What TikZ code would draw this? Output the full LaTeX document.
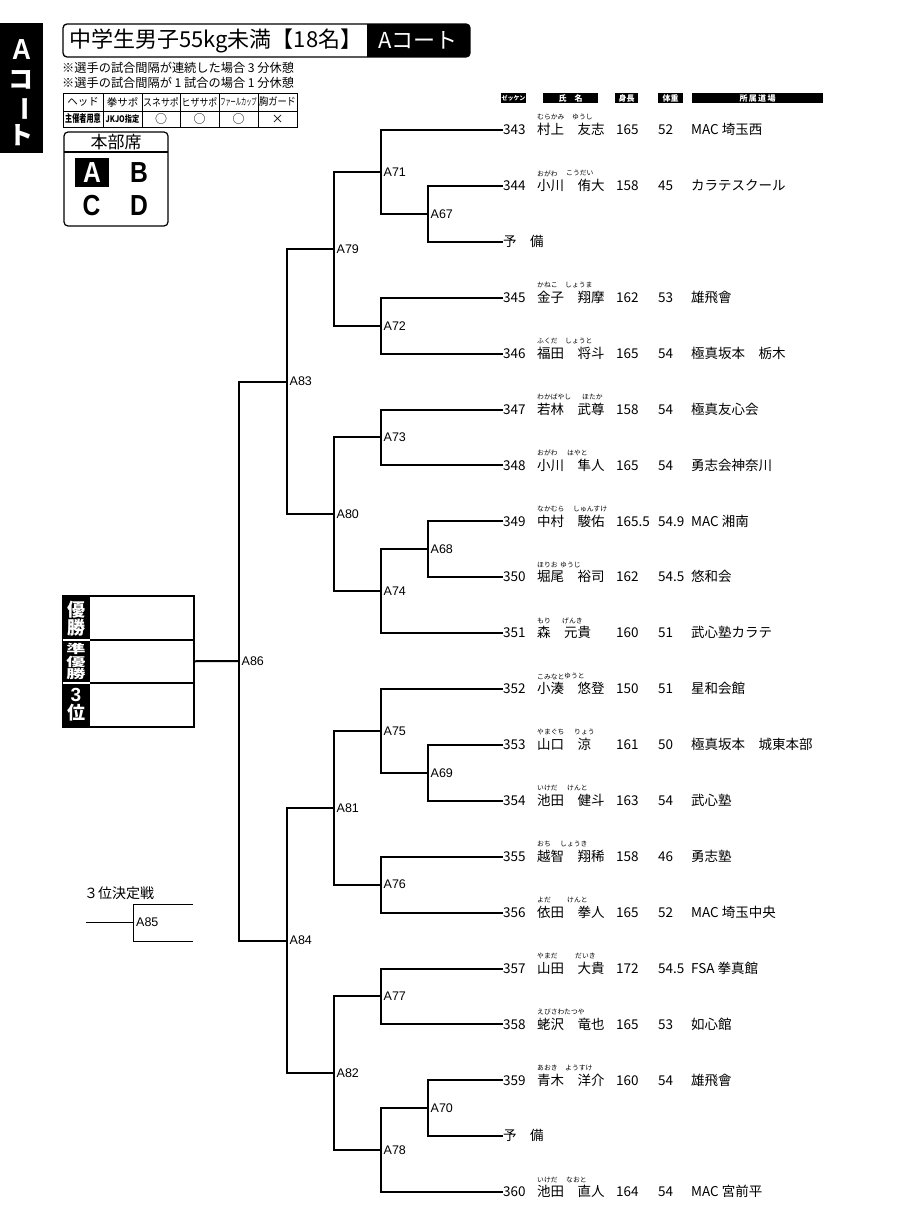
\documentclass[tikz,border=0pt]{standalone}
\usepackage{fontspec}
\usepackage{graphicx}
\setmainfont{Noto Sans CJK JP}
\newfontfamily\lat{Liberation Sans}
\tikzset{
  br/.style={line width=2pt, line join=miter},
  thinln/.style={line width=0.9pt},
  mlab/.style={anchor=west, inner sep=0pt, xshift=2.5pt, font=\lat\fontsize{12.5}{13}\selectfont},
  rowtxt/.style={anchor=west, inner sep=0pt, text height=9.4pt, text depth=0pt, font=\fontsize{13.5}{14}\selectfont},
  furi/.style={anchor=west, inner sep=0pt, font=\fontsize{6.8}{7}\selectfont},
  hdr/.style={fill=black, text=white, inner sep=0pt, minimum height=10pt, font=\bfseries\fontsize{8}{8}\selectfont},
  tcell/.style={inner sep=0pt, font=\fontsize{10.5}{10.5}\selectfont},
  wlab/.style={text=white, inner sep=0pt, font=\bfseries\fontsize{18}{18}\selectfont},
  big/.style={inner sep=0pt, font=\lat\bfseries\fontsize{29}{29}\selectfont}
}
\begin{document}
\begin{tikzpicture}[x=1pt,y=-1pt]
\useasboundingbox (0,0) rectangle (900,1225);

% side tab
\node[fill=black, minimum width=43pt, minimum height=130pt, inner sep=0pt, anchor=north west] (tab) at (0,23) {};
\node[big, text=white] (tabA) at (21.5,50) {\scalebox{0.9}[1]{A}};
\node[inner sep=0pt, text=white, font=\bfseries\fontsize{25}{25}\selectfont] (tabB) at (21.5,80) {コ};
\node[inner sep=0pt, text=white, rotate=-90, font=\bfseries\fontsize{25}{25}\selectfont] (tabC) at (21.5,109) {ー};
\node[inner sep=0pt, text=white, font=\bfseries\fontsize{25}{25}\selectfont] (tabD) at (21.5,135) {ト};

% title
\begin{scope}
\clip[rounded corners=4pt] (63,24) rectangle (470,57);
\fill (367,24) rectangle (470,57);
\end{scope}
\draw[line width=1.3pt, rounded corners=4pt] (63,24) rectangle (470,57);
\node[anchor=west, inner sep=0pt, font=\fontsize{22}{22}\selectfont] (title) at (69,40.5) {中学生男子55kg未満【18名】};
\node[inner sep=0pt, text=white, font=\fontsize{22}{22}\selectfont] (court) at (418,40.5) {Aコート};

% notes
\node[anchor=west, inner sep=0pt, font=\fontsize{12.2}{12}\selectfont] (note1) at (62,68) {※選手の試合間隔が連続した場合 3 分休憩};
\node[anchor=west, inner sep=0pt, font=\fontsize{12.2}{12}\selectfont] (note2) at (62,83) {※選手の試合間隔が 1 試合の場合 1 分休憩};

% equipment table
\draw[thinln] (63,93) rectangle (297,127);
\draw[thinln] (63,111) -- (297,111);
\foreach \cx in {103,142,180,219,258} \draw[thinln] (\cx,93) -- (\cx,127);
\node[tcell] (t1) at (83,102) {ヘッド};
\node[tcell] (t2) at (122.5,102) {拳サポ};
\node[tcell] (t3) at (161,102) {\scalebox{0.85}[1]{スネサポ}};
\node[tcell] (t4) at (199.5,102) {\scalebox{0.85}[1]{ヒザサポ}};
\node[tcell] (t5) at (238.5,102) {\scalebox{0.55}[1]{\fontsize{9.5}{9}\selectfont ファールカップ}};
\node[tcell] (t6) at (277.5,102) {\scalebox{0.88}[1]{胸ガード}};
\node[tcell] (u1) at (83,119) {\scalebox{0.68}[1]{\bfseries 主催者用意}};
\node[tcell] (u2) at (122.5,119) {\scalebox{0.8}[1]{\bfseries\fontsize{9}{9}\selectfont JKJO指定}};
\node[tcell, font=\fontsize{12}{12}\selectfont] (u3) at (161,119) {○};
\node[tcell, font=\fontsize{12}{12}\selectfont] (u4) at (199.5,119) {○};
\node[tcell, font=\fontsize{12}{12}\selectfont] (u5) at (238.5,119) {○};
\node[tcell, font=\fontsize{12}{12}\selectfont] (u6) at (277.5,119) {×};

% honbu box
\draw[line width=1.2pt, rounded corners=4pt] (64,132) rectangle (168,226);
\draw[line width=1.2pt] (64,152) -- (168,152);
\node[inner sep=0pt, font=\fontsize{17}{17}\selectfont] (honbu) at (116,142.5) {本部席};
\node[fill=black, minimum width=34pt, minimum height=29pt, inner sep=0pt] (selA) at (92,172.5) {};
\node[big, text=white] (lA) at (92,172.5) {\scalebox{0.85}[1]{A}};
\node[big] (lB) at (139,173) {\scalebox{0.85}[1]{B}};
\node[big] (lC) at (91.5,206) {\scalebox{0.85}[1]{C}};
\node[big] (lD) at (139,206) {\scalebox{0.85}[1]{D}};

% column headers
\node[hdr, minimum width=25pt, font=\bfseries\fontsize{6}{6}\selectfont] (hz) at (513.5,98) {ゼッケン};
\node[hdr, minimum width=55pt] (hn) at (570.5,98) {氏　名};
\node[hdr, minimum width=23pt] (hh) at (626.5,98) {身長};
\node[hdr, minimum width=25pt] (hw) at (670.5,98) {体重};
\node[hdr, minimum width=131pt] (hd) at (757.5,98) {所\,属\,道\,場};

% players
\foreach \i/\num/\fa/\fx/\fb/\nm/\h/\w/\dj in {
0/343/むらかみ/572/ゆうし/村上　友志/165/52/MAC 埼玉西,
1/344/おがわ/566/こうだい/小川　侑大/158/45/カラテスクール,
3/345/かねこ/565/しょうま/金子　翔摩/162/53/雄飛會,
4/346/ふくだ/565/しょうと/福田　将斗/165/54/極真坂本　栃木,
5/347/わかばやし/582/ほたか/若林　武尊/158/54/極真友心会,
6/348/おがわ/567/はやと/小川　隼人/165/54/勇志会神奈川,
7/349/なかむら/573/しゅんすけ/中村　駿佑/165.5/54.9/MAC 湘南,
8/350/ほりお/560/ゆうじ/堀尾　裕司/162/54.5/悠和会,
9/351/もり/562/げんき/森　元貴/160/51/武心塾カラテ,
10/352/こみなと/564/ゆうと/小湊　悠登/150/51/星和会館,
11/353/やまぐち/574/りょう/山口　涼/161/50/極真坂本　城東本部,
12/354/いけだ/567/けんと/池田　健斗/163/54/武心塾,
13/355/おち/560/しょうき/越智　翔稀/158/46/勇志塾,
14/356/よだ/567/けんと/依田　拳人/165/52/MAC 埼玉中央,
15/357/やまだ/575/だいき/山田　大貴/172/54.5/FSA 拳真館,
16/358/えびさわ/564/たつや/蛯沢　竜也/165/53/如心館,
17/359/あおき/565/ようすけ/青木　洋介/160/54/雄飛會,
19/360/いけだ/566/なおと/池田　直人/164/54/MAC 宮前平}{
  \pgfmathsetmacro\yy{130+55.9*\i}
  \node[rowtxt] (num\num) at (503,\yy) {\num};
  \node[furi] (fa\num) at (537,{\yy-12.5}) {\fa};
  \node[furi] (fb\num) at ({\fx},{\yy-12.5}) {\fb};
  \node[rowtxt] (nm\num) at (537,\yy) {\nm};
  \node[rowtxt] (h\num) at (616,\yy) {\h};
  \node[rowtxt] (w\num) at (658,\yy) {\w};
  \node[rowtxt] (dj\num) at (691,\yy) {\dj};
}
\node[rowtxt] (res1) at (503,241.8) {予　備};
\node[rowtxt] (res2) at (503,1136.2) {予　備};

% match points
\coordinate (m67) at (428,213.85);
\coordinate (m68) at (428,549.25);
\coordinate (m69) at (428,772.85);
\coordinate (m70) at (428,1108.25);
\coordinate (m71) at (381,171.9);
\coordinate (m72) at (381,325.65);
\coordinate (m73) at (381,437.45);
\coordinate (m74) at (381,591.2);
\coordinate (m75) at (381,730.9);
\coordinate (m76) at (381,884.65);
\coordinate (m77) at (381,996.45);
\coordinate (m78) at (381,1150.2);
\coordinate (m79) at (334,248.8);
\coordinate (m80) at (334,514.3);
\coordinate (m81) at (334,807.8);
\coordinate (m82) at (334,1073.3);
\coordinate (m83) at (287,381.55);
\coordinate (m84) at (287,940.55);
\coordinate (m86) at (239,661.05);

% leaf connectors
\foreach \a/\b in {num343/m71, num344/m67, res1/m67, num345/m72, num346/m72,
  num347/m73, num348/m73, num349/m68, num350/m68, num351/m74,
  num352/m75, num353/m69, num354/m69, num355/m76, num356/m76,
  num357/m77, num358/m77, num359/m70, res2/m70, num360/m78}
  \draw[br] (\a.west) -| (\b);
% match connectors
\foreach \a/\b in {m67/m71, m71/m79, m72/m79, m73/m80, m68/m74, m74/m80,
  m79/m83, m80/m83, m69/m75, m75/m81, m76/m81, m77/m82, m70/m78, m78/m82,
  m81/m84, m82/m84, m83/m86, m84/m86}
  \draw[br] (\a) -| (\b);

% match labels
\foreach \m in {67,68,69,70,71,72,73,74,75,76,77,78,79,80,81,82,83,84,86}
  \node[mlab] (lab\m) at (m\m) {A\m};

% winner box
\fill (62,595) rectangle (90,726);
\node[draw, line width=1.5pt, minimum width=131pt, minimum height=131pt, inner sep=0pt, anchor=north west] (win) at (62,595) {};
\draw[line width=1.5pt, white] (62.8,640) -- (90,640);
\draw[line width=1.5pt, white] (62.8,683) -- (90,683);
\draw[line width=1.5pt] (90,640) -- (193,640);
\draw[line width=1.5pt] (90,683) -- (193,683);
\node[wlab] (w1a) at (76,610) {優};
\node[wlab] (w1b) at (76,628) {勝};
\node[wlab, font=\bfseries\fontsize{12}{12}\selectfont] (w2a) at (76,649) {\scalebox{1.6}[1]{準}};
\node[wlab, font=\bfseries\fontsize{12}{12}\selectfont] (w2b) at (76,661.5) {\scalebox{1.6}[1]{優}};
\node[wlab, font=\bfseries\fontsize{12}{12}\selectfont] (w2c) at (76,674) {\scalebox{1.6}[1]{勝}};
\node[wlab, font=\lat\bfseries\fontsize{19}{19}\selectfont] (w3a) at (76,694.5) {3};
\node[wlab] (w3b) at (76,712.5) {位};
\draw[br] (win.east) -- (m86);

% third place
\node[anchor=west, inner sep=0pt, font=\fontsize{14}{14}\selectfont] (third) at (84,893) {３位決定戦};
\coordinate (m85) at (133,922);
\coordinate (t85a) at (193,904);
\coordinate (t85b) at (193,941);
\coordinate (t85in) at (86,922);
\draw[thinln] (t85a) -| (m85);
\draw[thinln] (t85b) -| (m85);
\draw[thinln] (t85in) -- (m85);
\node[mlab, xshift=0.5pt] (lab85) at (m85) {A85};
\end{tikzpicture}
\end{document}
